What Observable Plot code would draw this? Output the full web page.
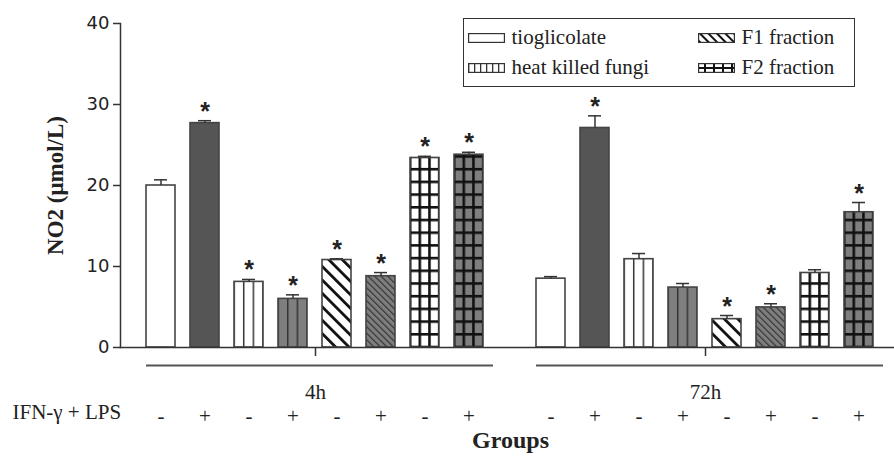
<!DOCTYPE html>
<html><head><meta charset="utf-8">
<script src="https://cdn.jsdelivr.net/npm/d3@7"></script>
<script src="https://cdn.jsdelivr.net/npm/@observablehq/plot@0.6"></script>
<style>
body{margin:0;background:#fff;}
#wrap{position:relative;width:894px;height:458px;overflow:hidden;font-family:"Liberation Serif",serif;color:#222;}
#legend{position:absolute;left:463px;top:18px;width:390px;height:67px;border:1.5px solid #333;background:#fff;}
.item{position:absolute;display:flex;align-items:center;height:24px;font-size:21px;line-height:1;white-space:nowrap;}
.item svg{margin-right:7px;display:block;}
</style></head><body>
<svg width="0" height="0" style="position:absolute">
<defs>
<pattern id="pat-v" patternUnits="objectBoundingBox" x="-0.025" y="0" width="0.33333" height="1" patternContentUnits="userSpaceOnUse">
  <rect x="0" y="0" width="1.5" height="2000" fill="#333"/>
</pattern>
<pattern id="pat-vt" patternUnits="objectBoundingBox" x="-0.04" y="0" width="0.33333" height="1" patternContentUnits="userSpaceOnUse">
  <rect x="0" y="0" width="2.6" height="2000" fill="#111"/>
</pattern>
<pattern id="pat-h" patternUnits="userSpaceOnUse" x="0" y="0" width="60" height="12.7">
  <rect x="0" y="0" width="60" height="2.6" fill="#111"/>
</pattern>
<pattern id="pat-d1" patternUnits="userSpaceOnUse" x="0" y="0" width="9.5" height="9.5" patternTransform="rotate(-45)">
  <rect x="0" y="0" width="2.8" height="9.5" fill="#111"/>
</pattern>
<pattern id="pat-d2" patternUnits="userSpaceOnUse" x="0" y="0" width="4.6" height="4.6" patternTransform="rotate(-45)">
  <rect x="0" y="0" width="1.2" height="4.6" fill="#333"/>
</pattern>
<pattern id="lg-v" patternUnits="userSpaceOnUse" x="0" y="0" width="6" height="10">
  <rect x="0" y="0" width="1.3" height="10" fill="#333"/>
</pattern>
<pattern id="lg-d" patternUnits="userSpaceOnUse" x="0" y="0" width="6" height="6" patternTransform="rotate(-45)">
  <rect x="0" y="0" width="2" height="6" fill="#111"/>
</pattern>
<pattern id="lg-g" patternUnits="userSpaceOnUse" x="-3" y="0" width="9" height="10">
  <rect x="0" y="0" width="2" height="10" fill="#111"/>
  <rect x="0" y="4" width="9" height="2" fill="#111"/>
</pattern>
</defs></svg>
<div id="wrap"><div id="chart"></div><div id="legend"></div></div>
<script>
const groups = ["4h", "72h"];
const treatments = ["tioglicolate", "heat killed fungi", "F1 fraction", "F2 fraction"];
const stimulus = ["-", "+"];
const means4h = [20.0, 27.7, 8.1, 6.0, 10.8, 8.8, 23.4, 23.8];
const errors4h = [0.7, 0.3, 0.3, 0.5, 0.15, 0.45, 0.2, 0.3];
const stars4h = [0, 1, 1, 1, 1, 1, 1, 1];
const means72h = [8.5, 27.1, 10.9, 7.4, 3.5, 4.95, 9.2, 16.7];
const errors72h = [0.25, 1.5, 0.7, 0.5, 0.45, 0.45, 0.4, 1.2];
const stars72h = [0, 1, 0, 0, 1, 1, 0, 1];
const yTicks = [0, 10, 20, 30, 40];
const yLabel = "NO2 (μmol/L)";
const xLabel = "Groups";
const stimLabel = "IFN-γ + LPS";

const keys = treatments.flatMap(t => stimulus.map(s => t + "|" + s));
const rows = [];
[[means4h, errors4h, stars4h], [means72h, errors72h, stars72h]].forEach(([m, e, s], gi) =>
  keys.forEach((k, ki) => rows.push({
    group: groups[gi], key: k, treatment: treatments[Math.floor(ki / 2)], sign: stimulus[ki % 2],
    mean: m[ki], err: e[ki], top: m[ki] + e[ki], star: !!s[ki]
  })));

const isT = i => d => d.treatment === treatments[i];
const B = {fx: "group", x: "key", y: "mean"};

const chart = Plot.plot({
  width: 894, height: 458,
  marginLeft: 120, marginRight: -6, marginTop: 23, marginBottom: 111,
  style: {fontFamily: "'Liberation Serif', serif", color: "#222", background: "transparent", overflow: "visible"},
  fx: {domain: groups, paddingInner: 0, paddingOuter: 0},
  x: {domain: keys, paddingInner: 1 / 3, paddingOuter: 0.511},
  y: {domain: [0, 40]},
  marks: [
    Plot.barY(rows, {...B, filter: d => d.sign === "-", fill: "white"}),
    Plot.barY(rows, {...B, filter: d => d.sign === "+" && d.treatment === treatments[0], fill: "#555"}),
    Plot.barY(rows, {...B, filter: d => d.sign === "+" && d.treatment !== treatments[0], fill: "#7f7f7f"}),
    Plot.barY(rows, {...B, filter: isT(1), fill: "url(#pat-v)"}),
    Plot.barY(rows, {...B, filter: d => isT(2)(d) && d.sign === "-", fill: "url(#pat-d1)"}),
    Plot.barY(rows, {...B, filter: d => isT(2)(d) && d.sign === "+", fill: "url(#pat-d2)"}),
    Plot.barY(rows, {...B, filter: isT(3), fill: "url(#pat-h)"}),
    Plot.barY(rows, {...B, filter: isT(3), fill: "url(#pat-vt)"}),
    Plot.barY(rows, {...B, fill: "none", stroke: "#444", strokeWidth: 1.6}),
    Plot.ruleX(rows, {fx: "group", x: "key", y1: "mean", y2: "top", stroke: "#333", strokeWidth: 1.5}),
    Plot.tickY(rows, {fx: "group", x: "key", y: "top", insetLeft: 8, insetRight: 8, stroke: "#333", strokeWidth: 1.5}),
    Plot.text(rows, {filter: d => d.star, fx: "group", x: "key", y: "top", text: () => "*", dy: -9,
      fontSize: 25, fontWeight: "bold", fontFamily: "'Liberation Sans', sans-serif", fill: "#222"}),
    Plot.ruleY(groups, {fx: d => d, y: () => 0, dy: 18, insetLeft: 26, insetRight: 17, stroke: "#555", strokeWidth: 2}),
    Plot.frame({facet: "super", anchor: "bottom", stroke: "#333", strokeWidth: 1.5}),
    Plot.frame({facet: "super", anchor: "left", stroke: "#333", strokeWidth: 1.5}),
    Plot.axisY({ticks: yTicks, tickSize: 7, tickPadding: 4, fontSize: 18, fontFamily: "'DejaVu Sans', sans-serif",
      label: null, stroke: "#333", strokeWidth: 1.5}),
    Plot.axisX({anchor: "bottom", tickSize: 0, tickPadding: 61, fontSize: 21, tickFormat: k => k.split("|")[1], label: null}),
    Plot.axisFx({anchor: "bottom", tickSize: 9, tickPadding: 28, fontSize: 21, label: null, stroke: "#333", strokeWidth: 1.5}),
    Plot.text([stimLabel], {facet: "super", frameAnchor: "bottom-left", textAnchor: "start", dx: -108, dy: 71, fontSize: 21}),
    Plot.text([xLabel], {facet: "super", frameAnchor: "bottom", dy: 100, fontSize: 24, fontWeight: "bold"}),
    Plot.text([yLabel], {facet: "super", frameAnchor: "left", textAnchor: "middle", dx: -65, rotate: -90, fontSize: 23, fontWeight: "bold"})
  ]
});
document.getElementById("chart").appendChild(chart);
const y0 = chart.scale("y").apply(0);
document.getElementById("pat-h").setAttribute("y", y0 - 1.3);

// legend
const legendItems = [
  {label: treatments[0], fill: "white", col: 0, row: 0},
  {label: treatments[1], fill: "url(#lg-v)", col: 0, row: 1},
  {label: treatments[2], fill: "url(#lg-d)", col: 1, row: 0},
  {label: treatments[3], fill: "url(#lg-g)", col: 1, row: 1}
];
const legend = document.getElementById("legend");
legendItems.forEach(it => {
  const div = document.createElement("div");
  div.className = "item";
  div.style.left = (it.col ? 233.5 : 3.5) + "px";
  div.style.top = (it.row ? 36.5 : 6.5) + "px";
  div.innerHTML = `<svg width="37" height="10"><rect x="0.6" y="0.6" width="35.8" height="8.8" fill="white"/><rect x="0.6" y="0.6" width="35.8" height="8.8" fill="${it.fill}" stroke="#333" stroke-width="1.2"/></svg><span>${it.label}</span>`;
  legend.appendChild(div);
});
</script>
</body></html>
